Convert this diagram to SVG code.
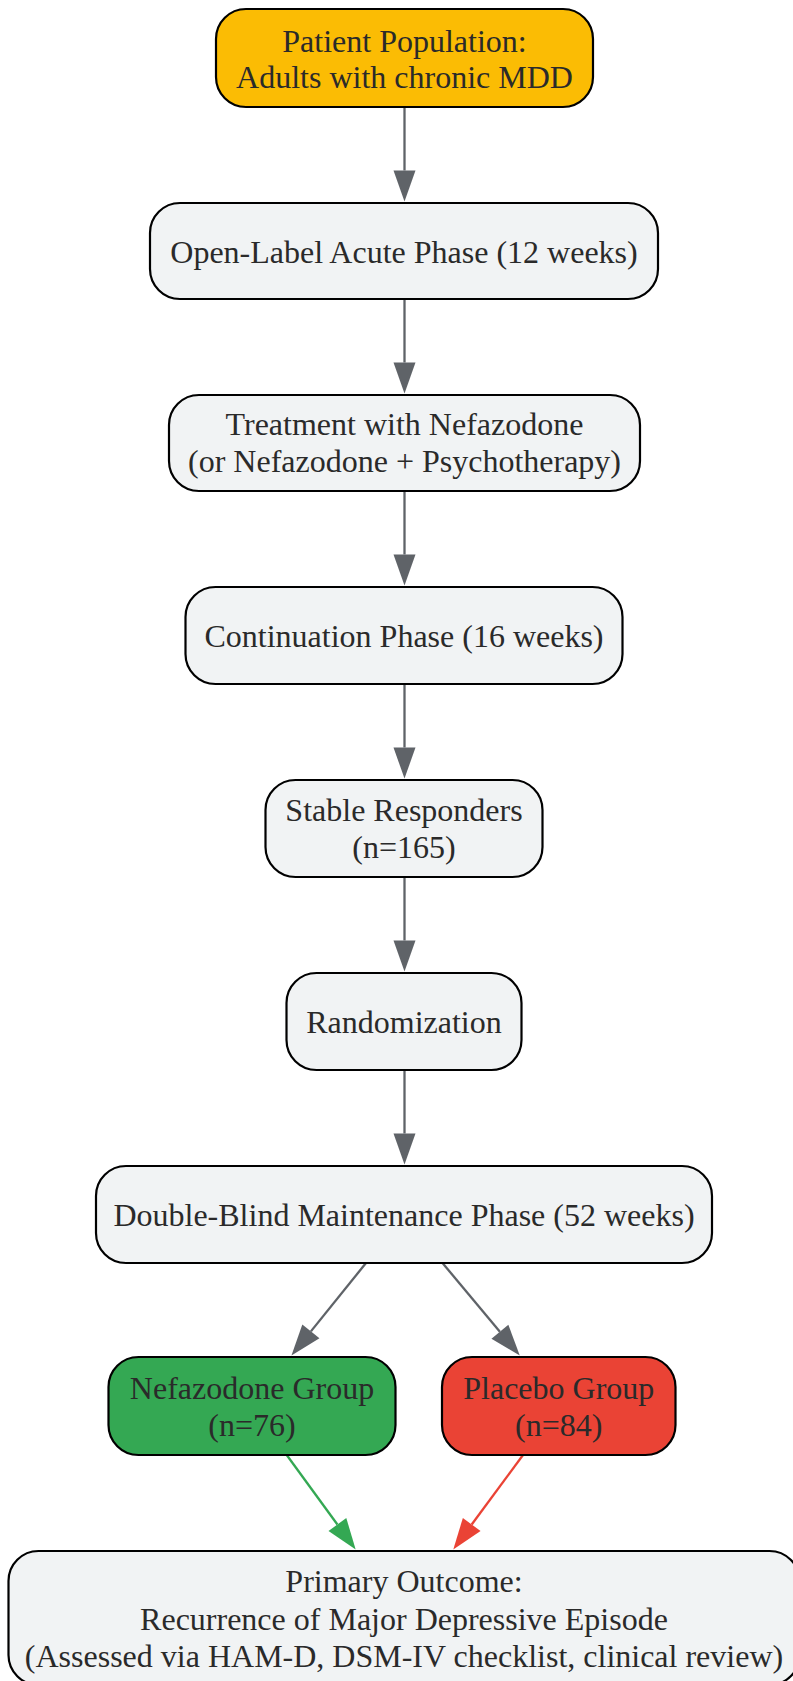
<svg xmlns="http://www.w3.org/2000/svg" width="793" height="1681" viewBox="0 0 793 1681">
<style>
.box{stroke:#000;stroke-width:2.2}
.g{fill:#F1F3F4}
.t{font-family:"Liberation Serif","Times New Roman",serif;font-size:32px;fill:#2a2a2a;text-anchor:middle}
.e{fill:none;stroke-width:2.3}
</style>
<defs>
<marker id="ag" markerUnits="userSpaceOnUse" markerWidth="32" markerHeight="24" viewBox="0 -12 32 24" refX="0" refY="0" orient="auto" overflow="visible"><path d="M0,-11 L31,0 L0,11 Z" fill="#5F6368"/></marker>
<marker id="agr" markerUnits="userSpaceOnUse" markerWidth="32" markerHeight="24" viewBox="0 -12 32 24" refX="0" refY="0" orient="auto" overflow="visible"><path d="M0,-11 L31,0 L0,11 Z" fill="#34A853"/></marker>
<marker id="ar" markerUnits="userSpaceOnUse" markerWidth="32" markerHeight="24" viewBox="0 -12 32 24" refX="0" refY="0" orient="auto" overflow="visible"><path d="M0,-11 L31,0 L0,11 Z" fill="#EA4335"/></marker>
</defs>
<rect width="793" height="1681" fill="#fff"/>
<g id="connectors">
<path class="e" stroke="#5F6368" d="M404.5,107 L404.5,170.5" marker-end="url(#ag)"/>
<path class="e" stroke="#5F6368" d="M404.5,299 L404.5,362.5" marker-end="url(#ag)"/>
<path class="e" stroke="#5F6368" d="M404.5,491 L404.5,554.5" marker-end="url(#ag)"/>
<path class="e" stroke="#5F6368" d="M404.5,684 L404.5,747.5" marker-end="url(#ag)"/>
<path class="e" stroke="#5F6368" d="M404.5,877 L404.5,940.5" marker-end="url(#ag)"/>
<path class="e" stroke="#5F6368" d="M404.5,1070 L404.5,1133.5" marker-end="url(#ag)"/>
<path class="e" stroke="#5F6368" d="M366,1263 L310.9,1331.4" marker-end="url(#ag)"/>
<path class="e" stroke="#5F6368" d="M442.5,1263 L499.9,1331.7" marker-end="url(#ag)"/>
<path class="e" stroke="#34A853" d="M286.7,1455 L337.4,1524.5" marker-end="url(#agr)"/>
<path class="e" stroke="#EA4335" d="M523,1455 L471.7,1524.5" marker-end="url(#ar)"/>
</g>
<g id="patient-population">
<rect class="box" x="216" y="9" width="377" height="98" rx="30" fill="#FBBC04"/>
<text class="t" x="404.5" y="51.5">Patient Population:</text>
<text class="t" x="404.5" y="88">Adults with chronic MDD</text>
</g>
<g id="open-label">
<rect class="box g" x="150" y="203" width="508" height="96" rx="30"/>
<text class="t" x="404" y="262.5">Open-Label Acute Phase (12 weeks)</text>
</g>
<g id="treatment">
<rect class="box g" x="169" y="395" width="471" height="96" rx="30"/>
<text class="t" x="404.5" y="435">Treatment with Nefazodone</text>
<text class="t" x="404.5" y="472">(or Nefazodone + Psychotherapy)</text>
</g>
<g id="continuation">
<rect class="box g" x="185.5" y="587" width="437" height="97" rx="30"/>
<text class="t" x="404" y="647">Continuation Phase (16 weeks)</text>
</g>
<g id="stable-responders">
<rect class="box g" x="265.5" y="780" width="277" height="97" rx="30"/>
<text class="t" x="404" y="821">Stable Responders</text>
<text class="t" x="404" y="858">(n=165)</text>
</g>
<g id="randomization">
<rect class="box g" x="286.5" y="973" width="235" height="97" rx="30"/>
<text class="t" x="404" y="1033">Randomization</text>
</g>
<g id="double-blind">
<rect class="box g" x="96" y="1166" width="616" height="97" rx="30"/>
<text class="t" x="404" y="1226">Double-Blind Maintenance Phase (52 weeks)</text>
</g>
<g id="nefazodone-group">
<rect class="box" x="108.5" y="1357" width="287" height="98" rx="30" fill="#34A853"/>
<text class="t" x="252" y="1399">Nefazodone Group</text>
<text class="t" x="252" y="1436">(n=76)</text>
</g>
<g id="placebo-group">
<rect class="box" x="442" y="1357" width="233.5" height="98" rx="30" fill="#EA4335"/>
<text class="t" x="558.8" y="1399">Placebo Group</text>
<text class="t" x="558.8" y="1436">(n=84)</text>
</g>
<g id="primary-outcome">
<rect class="box g" x="8.5" y="1551" width="791" height="134" rx="30"/>
<text class="t" x="404" y="1592">Primary Outcome:</text>
<text class="t" x="404" y="1629.5">Recurrence of Major Depressive Episode</text>
<text class="t" x="404" y="1667">(Assessed via HAM-D, DSM-IV checklist, clinical review)</text>
</g>
</svg>
